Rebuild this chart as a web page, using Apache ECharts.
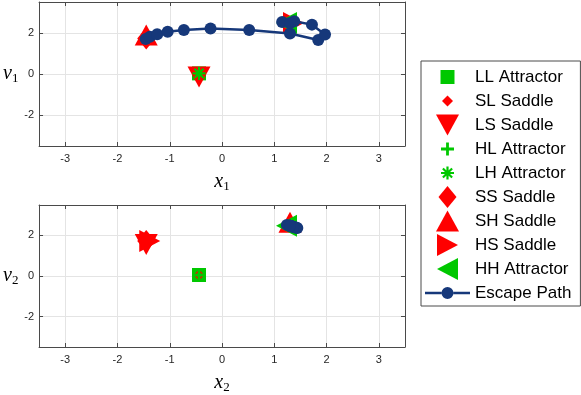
<!DOCTYPE html>
<html><head><meta charset="utf-8">
<script src="https://cdn.jsdelivr.net/npm/echarts@6/dist/echarts.min.js"></script>
<style>html,body{margin:0;padding:0;background:#fff}#c{width:581px;height:395px}</style>
</head><body><div id="c"></div>
<script>
// ---------- data ----------
const pointNames = ['LL Attractor','SL Saddle','LS Saddle','HL Attractor','LH Attractor','SS Saddle','SH Saddle','HS Saddle','HH Attractor'];
const pointX1 = [-0.44, -1.45, -0.44,  1.30, -0.44, -1.45, -1.45,  1.30,  1.30];
const pointV1 = [ 0.03,  1.72,  0.03,  2.48,  0.03,  1.72,  1.72,  2.48,  2.48];
const pointX2 = [-0.44, -0.44, -1.45, -0.44,  1.30, -1.45,  1.30, -1.45,  1.30];
const pointV2 = [ 0.05,  0.05,  1.72,  0.05,  2.48,  1.72,  2.48,  1.72,  2.48];

const pathName = 'Escape Path';
const pathX1 = [-1.46, -1.38, -1.24, -1.04, -0.73, -0.22, 0.52, 1.30, 1.84, 1.97, 1.72, 1.38, 1.15, 1.30];
const pathV1 = [ 1.70,  1.81,  1.93,  2.05,  2.14,  2.21, 2.14, 1.97, 1.65, 1.92, 2.40, 2.56, 2.53, 2.48];
const pathX2 = [ 1.30,  1.30,  1.31,  1.31,  1.32,  1.33, 1.35, 1.40, 1.44, 1.42, 1.36, 1.30, 1.24, 1.30];
const pathV2 = [ 2.48,  2.48,  2.47,  2.47,  2.46,  2.45, 2.43, 2.40, 2.37, 2.38, 2.43, 2.48, 2.52, 2.48];

const xTickValues = [-3, -2, -1, 0, 1, 2, 3];
const yTickValues = [-2, 0, 2];

// ---------- styles ----------
const RED = '#ff0000', GREEN = '#00c800', NAVY = '#16387a';
const pointShapes = ['square','smallDiamond','triDown','plus','asterisk','diamond','triUp','triRight','triLeft'];
const pointColors = [GREEN, RED, RED, GREEN, GREEN, RED, RED, RED, GREEN];

function shapePath(kind, W, H, centroid) {
  const cx = W / 2, cy = H / 2;
  const poly = pts => 'M' + pts.map(p => p[0].toFixed(2) + ',' + p[1].toFixed(2)).join(' L') + ' Z ';
  const rect = (hw, hh, ang) => {
    const c = Math.cos(ang), s = Math.sin(ang);
    return poly([[-hw,-hh],[hw,-hh],[hw,hh],[-hw,hh]].map(([x, y]) => [cx + x * c - y * s, cy + x * s + y * c]));
  };
  const k = centroid ? 1 / 3 : 1 / 2;
  let d = 'path://M0,0 M' + W + ',' + H + ' ';
  switch (kind) {
    case 'square': d += poly([[cx-7,cy-7],[cx+7,cy-7],[cx+7,cy+7],[cx-7,cy+7]]); break;
    case 'smallDiamond': d += poly([[cx,cy-5.5],[cx+5.5,cy],[cx,cy+5.5],[cx-5.5,cy]]); break;
    case 'diamond': d += poly([[cx,cy-11],[cx+9,cy],[cx,cy+11],[cx-9,cy]]); break;
    case 'triDown': { const h = 21, w = 23; d += poly([[cx-w/2, cy-h*k],[cx+w/2, cy-h*k],[cx, cy+h*(1-k)]]); break; }
    case 'triUp': { const h = 21, w = 23; d += poly([[cx, cy-h*(1-k)],[cx+w/2, cy+h*k],[cx-w/2, cy+h*k]]); break; }
    case 'triRight': { const w = 21, h = 22; d += poly([[cx-w*k, cy-h/2],[cx+w*(1-k), cy],[cx-w*k, cy+h/2]]); break; }
    case 'triLeft': { const w = 21, h = 22; d += poly([[cx+w*k, cy-h/2],[cx+w*k, cy+h/2],[cx-w*(1-k), cy]]); break; }
    case 'plus': d += rect(6.5, 1.4, 0) + rect(6.5, 1.4, Math.PI / 2); break;
    case 'asterisk': for (let a = 0; a < 4; a++) d += rect(6.5, 1.1, a * Math.PI / 4); break;
  }
  return d;
}

const pathLegendIcon = 'path://M0,0 M45,22 M0,9.75 L16.5,9.75 L16.5,12.25 L0,12.25 Z M28.5,9.75 L45,9.75 L45,12.25 L28.5,12.25 Z M28.5,11 A6,6 0 1 1 16.5,11 A6,6 0 1 1 28.5,11 Z';

// ---------- axes ----------
const AXC = '#262626', FRAME = '#4a4a4a';
const GRIDS = [
  { left: 36, top: 2, width: 369, height: 144 },
  { left: 36, top: 205, width: 369, height: 145 }
];
const mathRich = {
  i: { fontFamily: 'Liberation Serif', fontStyle: 'italic', fontSize: 20, color: '#000' },
  s: { fontFamily: 'Liberation Serif', fontSize: 13, color: '#000', padding: [10, 0, 0, 0] }
};
function xAx(g, pos, name) {
  const main = pos === 'bottom';
  return {
    type: 'value', gridIndex: g, position: pos, min: -3.5, max: 3.5, splitNumber: 5,
    axisLine: { show: true, onZero: false, lineStyle: { color: FRAME, width: 1 } },
    axisTick: { show: true, inside: true, length: 4, lineStyle: { color: FRAME }, customValues: xTickValues },
    axisLabel: { show: main, margin: 7, color: AXC, fontFamily: 'Liberation Sans', fontSize: 11, customValues: xTickValues },
    splitLine: { show: main, lineStyle: { color: '#e4e4e4', width: 1 } },
    name: main ? name : '', nameLocation: 'middle', nameGap: 24,
    nameTextStyle: { rich: mathRich }
  };
}
function yAx(g, pos, name) {
  const main = pos === 'left';
  return {
    type: 'value', gridIndex: g, position: pos, min: -3.5, max: 3.5, splitNumber: 3,
    axisLine: { show: true, onZero: false, lineStyle: { color: FRAME, width: 1 } },
    axisTick: { show: true, inside: true, length: 4, lineStyle: { color: FRAME }, customValues: yTickValues },
    axisLabel: { show: main, margin: 5, color: AXC, fontFamily: 'Liberation Sans', fontSize: 11, customValues: yTickValues },
    splitLine: { show: main, lineStyle: { color: '#e4e4e4', width: 1 } },
    name: main ? name : '', nameLocation: 'middle', nameRotate: 0, nameGap: 20,
    nameTextStyle: { rich: mathRich }
  };
}

// ---------- series ----------
const series = [];
const coordSets = [[pointX1, pointV1, pathX1, pathV1], [pointX2, pointV2, pathX2, pathV2]];
coordSets.forEach(([px, pv, qx, qv], g) => {
  pointNames.forEach((nm, i) => {
    series.push({
      type: 'scatter', name: nm, xAxisIndex: g, yAxisIndex: g,
      data: [[px[i], pv[i]]],
      symbol: shapePath(pointShapes[i], 30, 30, true), symbolSize: 30, symbolKeepAspect: true,
      itemStyle: { color: pointColors[i], opacity: 1 },
      emphasis: { disabled: true }, silent: true
    });
  });
  series.push({
    type: 'line', name: pathName, xAxisIndex: g, yAxisIndex: g,
    data: qx.map((x, j) => [x, qv[j]]),
    symbol: 'circle', symbolSize: 12, showSymbol: true,
    lineStyle: { color: NAVY, width: 2.5 },
    itemStyle: { color: NAVY, borderWidth: 0 },
    emphasis: { disabled: true }, silent: true
  });
});

const legendData = pointNames.map((nm, i) => ({ name: nm, icon: shapePath(pointShapes[i], 45, 22, false) }));
legendData.push({ name: pathName, icon: pathLegendIcon });

const chart = echarts.init(document.getElementById('c'), null, { renderer: 'canvas' });
chart.setOption({
  animation: false,
  backgroundColor: '#fff',
  grid: GRIDS,
  xAxis: [xAx(0, 'bottom', '{i|x}{s|1}'), xAx(1, 'bottom', '{i|x}{s|2}'), xAx(0, 'top', ''), xAx(1, 'top', '')],
  yAxis: [yAx(0, 'left', '{i|v}{s|1}'), yAx(1, 'left', '{i|v}{s|2}'), yAx(0, 'right', ''), yAx(1, 'right', '')],
  legend: {
    orient: 'vertical', left: 421, top: 61,
    itemWidth: 45, itemHeight: 22, itemGap: 2,
    padding: [5, 9, 2, 4],
    borderColor: FRAME, borderWidth: 1, backgroundColor: '#fff',
    textStyle: { fontFamily: 'Liberation Sans', fontSize: 17, color: '#000' },
    selectedMode: false,
    data: legendData
  },
  series: series
});
</script></body></html>
